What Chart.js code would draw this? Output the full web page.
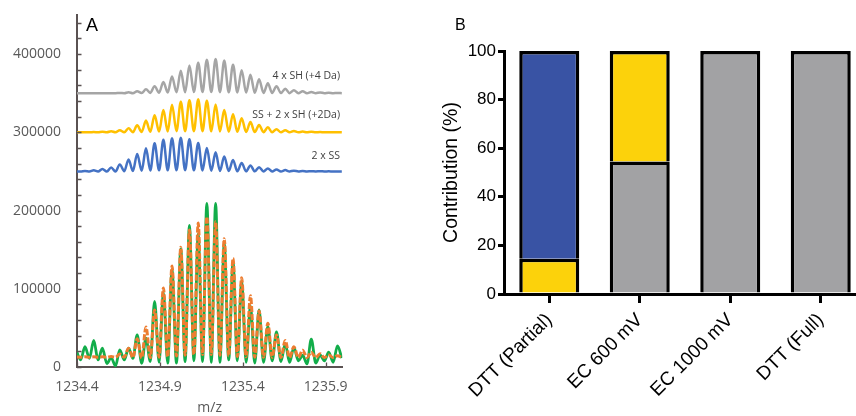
<!DOCTYPE html>
<html lang="en">
<head>
<meta charset="UTF-8">
<title>Isotope envelopes and contributions</title>
<script src="https://cdn.jsdelivr.net/npm/chart.js"></script>
<style>
  html, body { margin: 0; padding: 0; width: 856px; height: 416px; overflow: hidden; background: #fff; }
  #wrap { position: relative; width: 856px; height: 416px; overflow: hidden; }
  canvas { position: absolute; top: 0; }
  #chartA { left: 0; }
  #chartB { left: 420px; }
  .lbl { position: absolute; white-space: nowrap; font-family: "Open Sans", sans-serif; font-size: 10.5px; color: #404040; line-height: 1; transform: translateY(-50%); }
  .panel { position: absolute; font-family: "Liberation Sans", Arial, sans-serif; color: #000; line-height: 1; }
</style>
</head>
<body>
<div id="wrap">
  <canvas id="chartA" width="420" height="416"></canvas>
  <canvas id="chartB" width="450" height="416"></canvas>
  <div class="panel" style="left:86px;top:15.5px;font-size:18px">A</div>
  <div class="panel" style="left:455px;top:17px;font-size:16px">B</div>
  <div class="lbl" style="right:516px;top:75px">4 x SH (+4 Da)</div>
  <div class="lbl" style="right:516px;top:114px">SS + 2 x SH (+2Da)</div>
  <div class="lbl" style="right:516px;top:155px">2 x SS</div>
</div>

<script>
// ---- panel A: isotope peaks (m/z) and the troughs between them ----
const peakMz = [1234.396, 1234.448, 1234.501, 1234.553, 1234.606, 1234.658, 1234.711, 1234.763,
  1234.816, 1234.868, 1234.921, 1234.973, 1235.026, 1235.078, 1235.131, 1235.183, 1235.236,
  1235.288, 1235.341, 1235.393, 1235.446, 1235.498, 1235.551, 1235.603, 1235.656, 1235.708,
  1235.761, 1235.813, 1235.866, 1235.918, 1235.971];
const valleyMz = [1234.422, 1234.475, 1234.527, 1234.580, 1234.632, 1234.685, 1234.737, 1234.790,
  1234.842, 1234.895, 1234.947, 1235.000, 1235.052, 1235.105, 1235.157, 1235.210, 1235.262,
  1235.315, 1235.367, 1235.420, 1235.472, 1235.525, 1235.577, 1235.630, 1235.682, 1235.735,
  1235.787, 1235.840, 1235.892, 1235.945, 1235.997];
const mzTicks = [1234.4, 1234.9, 1235.4, 1235.9];
// tick marks on the intensity axis; only the multiples of 100000 carry a label
const intensityTicks = [0, 20000, 40000, 60000, 80000, 100000, 120000, 140000, 160000, 180000,
  200000, 220000, 240000, 260000, 280000, 300000, 320000, 340000, 360000, 380000, 400000,
  420000, 440000];

// simulated envelopes, drawn above their own baselines
const grayOffset = 350000, yellowOffset = 300000, blueOffset = 250000;
const grayPeaks = [0, 0, 0, 0, 0, 400, 1300, 2600, 5100, 9000, 14500, 21400, 28600, 35500, 39100,
  42900, 43600, 41700, 36500, 29500, 23500, 17900, 12800, 9000, 5800, 3800, 2600, 1700, 1000, 600, 400];
const grayValleys = [0, 0, 0, 0, 0, 0, 0, 200, 400, 700, 1000, 1200, 1400, 1500, 1500, 1500, 1400,
  1200, 1000, 800, 600, 400, 300, 200, 100, 0, 0, 0, 0, 0, 0];
const yellowPeaks = [0, 0, 400, 900, 1500, 2600, 5100, 9000, 15000, 21800, 28500, 35300, 39100, 41000,
  42300, 40400, 35600, 28600, 23100, 17900, 13200, 9400, 6400, 4100, 2600, 1700, 1000, 600, 400, 250, 130];
const yellowValleys = [0, 0, 0, 0, 0, 0, 200, 400, 700, 1000, 1200, 1400, 1500, 1500, 1500, 1400, 1200,
  900, 700, 500, 300, 200, 100, 0, 0, 0, 0, 0, 0, 0, 0];
const bluePeaks = [0, 600, 1500, 3200, 5100, 9000, 15400, 22400, 29500, 35900, 40400, 42300, 43000,
  41000, 36500, 30100, 24400, 19200, 14700, 10900, 7700, 5400, 3800, 2600, 1700, 1000, 600, 400, 250, 130, 0];
const blueValleys = [0, 0, 0, 0, 0, 300, 600, 900, 1200, 1400, 1500, 1500, 1500, 1400, 1200, 900, 700,
  500, 300, 200, 100, 0, 0, 0, 0, 0, 0, 0, 0, 0, 0];

// measured spectrum (green) and fitted sum (orange)
const measuredPeaks = [21000, 26000, 34000, 24000, 12000, 22000, 24000, 41000, 37000, 84000, 95000,
  124000, 151000, 181000, 170000, 209000, 209000, 158000, 134000, 110000, 78000, 73000, 52000, 45000,
  30000, 25000, 15000, 35500, 15400, 19000, 27000];
const measuredValleys = [9000, 11000, 9000, 4500, 1300, 9000, 11000, 4700, 7000, 6000, 5000, 5000, 6800,
  8000, 7000, 6000, 6000, 9000, 8000, 6000, 5000, 6000, 8000, 7000, 6000, 8000, 4000, 5000, 8000, 6000, 11500];
const fitPeaks = [13000, 13000, 13000, 13000, 13500, 16500, 24000, 36000, 51000, 73000, 101000, 129000,
  153000, 175000, 184000, 192000, 186000, 164000, 139000, 114000, 91000, 72000, 56000, 41000, 34000,
  26000, 21500, 19000, 17000, 15500, 14500];
const fitValleys = [12500, 12500, 12500, 12500, 12500, 12500, 12000, 11500, 12000, 12500, 13000, 14000,
  15000, 16000, 16000, 16000, 15000, 14000, 13500, 13000, 12500, 12500, 12500, 12000, 12000, 12000,
  12000, 12000, 12000, 12000, 12000];

// ---- panel B: contribution of each species (%) ----
const conditions = ['DTT (Partial)', 'EC 600 mV', 'EC 1000 mV', 'DTT (Full)'];
const grayShare = [null, 54.5, 100, 100];
const yellowShare = [14.5, 45.5, null, null];
const blueShare = [85.5, null, null, null];

const axisColor = '#5a5252';
const labelColor = '#595959';

function trace(peaks, valleys, offset) {
  const pts = [];
  peakMz.forEach((mz, i) => {
    pts.push({ x: mz, y: offset + peaks[i] });
    pts.push({ x: valleyMz[i], y: offset + valleys[i] });
  });
  return pts;
}

function lineSet(data, color, width, dash) {
  return {
    data: data,
    borderColor: color,
    borderWidth: width,
    borderDash: dash || [],
    pointRadius: 0,
    fill: false,
    cubicInterpolationMode: 'monotone'
  };
}

// small tick marks drawn inside the plot, like the original figure
const innerTicks = {
  id: 'innerTicks',
  afterDatasetsDraw(chart) {
    const { ctx, chartArea, scales: { x, y } } = chart;
    ctx.save();
    ctx.strokeStyle = axisColor;
    ctx.lineWidth = 1.3;
    ctx.beginPath();
    intensityTicks.forEach(v => {
      const py = Math.round(y.getPixelForValue(v)) + 0.5;
      ctx.moveTo(chartArea.left, py);
      ctx.lineTo(chartArea.left + 4.5, py);
    });
    mzTicks.forEach(v => {
      const px = Math.round(x.getPixelForValue(v)) + 0.5;
      ctx.moveTo(px, chartArea.bottom);
      ctx.lineTo(px, chartArea.bottom - 4.5);
    });
    ctx.stroke();
    ctx.restore();
  }
};

const fontA = { family: 'Open Sans', size: 14 };

new Chart(document.getElementById('chartA'), {
  type: 'line',
  data: {
    datasets: [
      lineSet(trace(fitPeaks, fitValleys, 0), '#ed7d31', 3, [6, 2]),
      lineSet(trace(measuredPeaks, measuredValleys, 0), '#12ad4a', 2.8),
      lineSet(trace(bluePeaks, blueValleys, blueOffset), '#4472c4', 2.5),
      lineSet(trace(yellowPeaks, yellowValleys, yellowOffset), '#ffc000', 2.5),
      lineSet(trace(grayPeaks, grayValleys, grayOffset), '#a5a5a5', 2.5)
    ]
  },
  options: {
    responsive: false,
    animation: false,
    layout: { padding: { left: 0, top: 15, right: 77.7, bottom: 0 } },
    plugins: { legend: { display: false }, tooltip: { enabled: false } },
    scales: {
      x: {
        type: 'linear',
        min: 1234.4,
        max: 1236.0,
        afterBuildTicks: s => { s.ticks = mzTicks.map(v => ({ value: v })); },
        afterFit: s => { s.height = 49; s.paddingLeft = 0; s.paddingRight = 0; },
        border: { color: axisColor, width: 2 },
        grid: { display: false, drawTicks: false },
        ticks: { autoSkip: false, maxRotation: 0, padding: 12, color: labelColor, font: fontA,
          callback: v => v.toFixed(1) },
        title: { display: true, text: 'm/z', color: labelColor, font: fontA, padding: { top: 0, bottom: 0 } }
      },
      y: {
        type: 'linear',
        min: 0,
        max: 450000,
        afterBuildTicks: s => { s.ticks = intensityTicks.map(v => ({ value: v })); },
        afterFit: s => { s.width = 77; s.paddingTop = 0; s.paddingBottom = 0; },
        border: { color: axisColor, width: 2 },
        grid: { display: false, drawTicks: false },
        ticks: { autoSkip: false, padding: 16, color: labelColor, font: fontA,
          callback: v => (v % 100000 === 0 ? String(v) : '') }
      }
    }
  },
  plugins: [innerTicks]
});

const fontB = { family: 'Liberation Sans', size: 17 };

new Chart(document.getElementById('chartB'), {
  type: 'bar',
  data: {
    labels: conditions,
    datasets: [
      { label: '4 x SH', data: grayShare, backgroundColor: '#a2a2a4' },
      { label: 'SS + 2 x SH', data: yellowShare, backgroundColor: '#fcd20b' },
      { label: '2 x SS', data: blueShare, backgroundColor: '#3953a4' }
    ]
  },
  options: {
    responsive: false,
    animation: false,
    layout: { padding: { left: 0, top: 51, right: 4, bottom: 0 } },
    plugins: { legend: { display: false }, tooltip: { enabled: false } },
    datasets: { bar: { borderColor: '#000', borderWidth: 3.5, categoryPercentage: 1, barPercentage: 0.663 } },
    scales: {
      x: {
        stacked: true,
        afterFit: s => { s.height = 122; s.paddingLeft = 0; s.paddingRight = 0; },
        border: { color: '#000', width: 3 },
        grid: { offset: false, drawOnChartArea: false, color: '#000', lineWidth: 3, tickLength: 9 },
        ticks: { minRotation: 45, maxRotation: 45, autoSkip: false, padding: 6, color: '#000',
          font: { family: 'Liberation Sans', size: 19 } }
      },
      y: {
        stacked: true,
        min: 0,
        max: 100,
        afterFit: s => { s.width = 84; s.paddingTop = 0; s.paddingBottom = 0; },
        border: { color: '#000', width: 3 },
        grid: { drawOnChartArea: false, color: '#000', lineWidth: 3, tickLength: 6 },
        ticks: { stepSize: 20, padding: 2, color: '#000', font: fontB },
        title: { display: true, text: 'Contribution (%)', color: '#000',
          font: { family: 'Liberation Sans', size: 19.5 }, padding: { top: 20, bottom: 0 } }
      }
    }
  }
});
</script>
</body>
</html>
